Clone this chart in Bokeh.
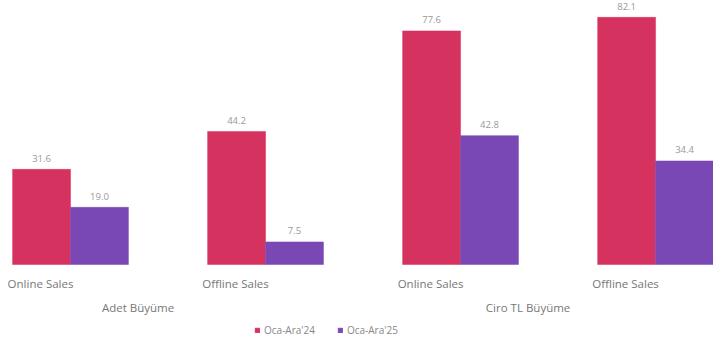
from bokeh.plotting import figure
from bokeh.models import ColumnDataSource, Legend, LegendItem, Range1d
from bokeh.core.properties import value
from bokeh.embed import file_html
from bokeh.resources import INLINE

# ---- data ----
groups = ["Adet Büyüme", "Ciro TL Büyüme"]
categories = ["Online Sales", "Offline Sales", "Online Sales", "Offline Sales"]
category_group = [0, 0, 1, 1]
series_names = ["Oca-Ara'24", "Oca-Ara'25"]
values_24 = [31.6, 44.2, 77.6, 82.1]
values_25 = [19.0, 7.5, 42.8, 34.4]

colors = ["#D6325F", "#7A48B4"]
FONT = "Open Sans"

xs = list(range(len(categories)))
bar_w = 0.297
dodge = bar_w / 2

p = figure(width=713, height=340, output_backend="svg", toolbar_location=None,
           x_range=Range1d(-0.359, 3.297), y_range=Range1d(-25.25, 87.7),
           min_border_left=0, min_border_right=0, min_border_top=0,
           min_border_bottom=0)
p.axis.visible = False
p.grid.visible = False
p.outline_line_color = None
p.background_fill_color = "white"
p.border_fill_color = "white"

src = ColumnDataSource(dict(
    x24=[x - dodge for x in xs], x25=[x + dodge for x in xs],
    v24=values_24, v25=values_25,
    t24=[f"{v:.1f}" for v in values_24], t25=[f"{v:.1f}" for v in values_25],
))

r24 = p.vbar(x="x24", top="v24", width=bar_w, bottom=0, source=src,
             fill_color=colors[0], line_color=colors[0], line_width=0.5)
r25 = p.vbar(x="x25", top="v25", width=bar_w, bottom=0, source=src,
             fill_color=colors[1], line_color=colors[1], line_width=0.5)

for xk, vk, tk in (("x24", "v24", "t24"), ("x25", "v25", "t25")):
    p.text(x=xk, y=vk, text=tk, source=src, text_align="center",
           text_baseline="middle", y_offset=-11, text_font=value(FONT),
           text_font_size="9.5px", text_color="#999999")

# category labels
cat_src = ColumnDataSource(dict(x=xs, y=[-6.3] * len(xs), t=categories))
p.text(x="x", y="y", text="t", source=cat_src, x_offset=-30,
       text_align="center", text_baseline="middle",
       text_font=value(FONT), text_font_size="11.5px", text_color="#777777")

# group labels
gx = []
for gi in range(len(groups)):
    members = [x for x, g in zip(xs, category_group) if g == gi]
    gx.append(sum(members) / len(members))
grp_src = ColumnDataSource(dict(x=gx, y=[-14.3] * len(gx), t=groups))
p.text(x="x", y="y", text="t", source=grp_src, x_offset=-30,
       text_align="center", text_baseline="middle",
       text_font=value(FONT), text_font_size="11.5px", text_color="#777777")

legend = Legend(items=[LegendItem(label=series_names[0], renderers=[r24]),
                       LegendItem(label=series_names[1], renderers=[r25])],
                orientation="horizontal", location=(254, 3),
                glyph_width=6, glyph_height=6, label_standoff=4, spacing=22,
                label_text_font=FONT, label_text_font_size="10px",
                label_text_color="#888888", border_line_color=None,
                background_fill_alpha=0, padding=0, margin=0)
p.add_layout(legend)

open("out.html", "w").write(file_html(p, INLINE))
